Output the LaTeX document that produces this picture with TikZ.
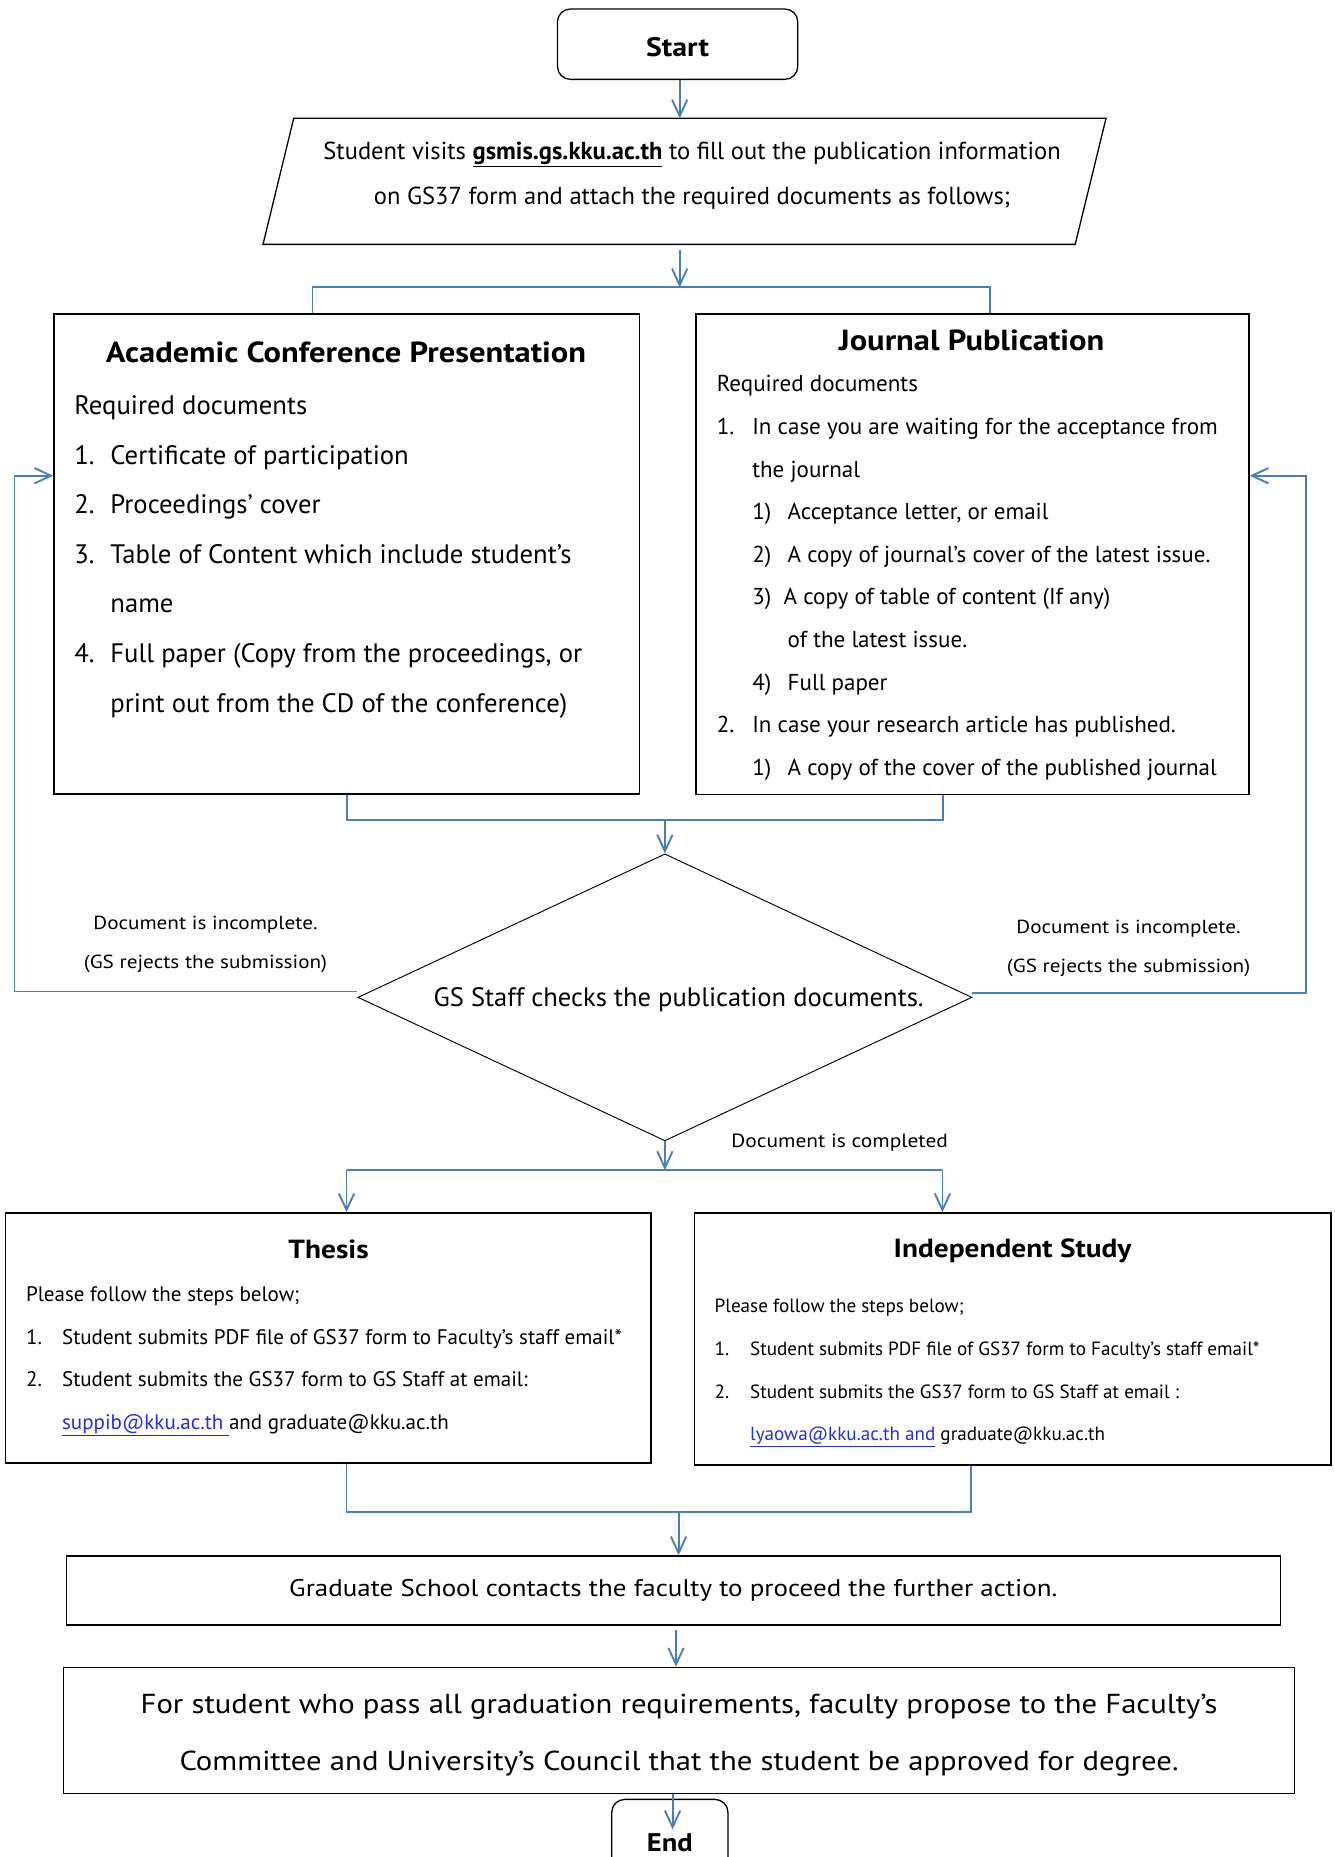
\documentclass[tikz,border=0pt]{standalone}
\usepackage{fontspec}
\setmainfont{PT Sans}
\newfontfamily\widefont{PT Sans}[FakeStretch=1.12]
\usetikzlibrary{positioning,calc,shapes.geometric,arrows.meta}

\definecolor{flowblue}{RGB}{74,126,187}
\definecolor{mailblue}{RGB}{30,45,235}

\newcommand{\nr}[2][30pt]{\makebox[#1][l]{#2}}
\newcommand{\lnk}[1]{\textcolor{mailblue}{\underline{#1}}}

\tikzset{
  box/.style={draw, line width=1.1pt, inner sep=0pt},
  term/.style={box, rounded corners=11pt, font=\widefont\bfseries\fontsize{22.6}{28}\selectfont},
  decision/.style={draw, diamond, line width=0.8pt, shape aspect=2.14, inner sep=0pt,
    minimum width=520pt, minimum height=243pt},
  boxtitle/.style={anchor=base, inner sep=0pt, font=\widefont\bfseries\fontsize{24.6}{28}\selectfont},
  txt/.style={anchor=north west, inner sep=0pt, align=left},
  note/.style={anchor=north, inner sep=0pt, align=center, font=\widefont\fontsize{16}{33}\selectfont},
  conn/.style={draw=flowblue, line width=1.6pt},
  arr/.style={conn, -{Straight Barb[length=14pt,width=13pt]}},
}

\begin{document}
\begin{tikzpicture}[x=1pt, y=-1pt]
  \useasboundingbox (0,0) rectangle (1130.4,1572.4);%
  % start and submission
  \node [term, minimum width=203.5pt, minimum height=59.6pt, text height=21pt, text depth=0pt] (start) at (573.75,37.4) {Start};%
  \draw [box] (222.7,206.9) -- (248.7,100.2) -- (936.5,100.2) -- (910.4,206.9) -- cycle;%
  \node [anchor=north, inner sep=0pt, align=center, font=\fontsize{20.8}{37.8}\selectfont] (visit) at (586,108.4) {%
    \strut Student visits \textbf{\underline{gsmis.gs.kku.ac.th}} to fill out the publication information\\%
    on GS37 form and attach the required documents as follows;};%
  \coordinate (visittop) at (575.5,100.2);%
  \coordinate (visitbot) at (575.5,211.7);%
  \coordinate (fork1) at (575.5,243.3);%
  \coordinate (fork1L) at (264.6,243.3);%
  \coordinate (fork1R) at (838.5,243.3);%
  % the two kinds of publication
  \node [box, minimum width=495.8pt, minimum height=406.4pt] (acad) at (293.6,469.1) {};%
  \node [boxtitle] (acadtitle) at (293,306.8) {Academic Conference Presentation};%
  \node [txt, font=\fontsize{22.6}{42}\selectfont] (acadlist) at (62.7,321.4) {%
    \strut Required documents\\%
    \nr[30.6pt]{1.}Certificate of participation\\%
    \nr[30.6pt]{2.}Proceedings’ cover\\%
    \nr[30.6pt]{3.}Table of Content which include student’s\\%
    \nr[30.6pt]{}name\\%
    \nr[30.6pt]{4.}Full paper (Copy from the proceedings, or\\%
    \nr[30.6pt]{}print out from the CD of the conference)};%
  \node [box, minimum width=468.4pt, minimum height=406.7pt] (jour) at (823.4,469.25) {};%
  \node [boxtitle] (jourtitle) at (822.7,296.9) {Journal Publication};%
  \node [txt, font=\fontsize{19.5}{36.07}\selectfont] (jourlist) at (606.8,306.35) {%
    \strut Required documents\\%
    \nr{1.}In case you are waiting for the acceptance from\\%
    \nr{}the journal\\%
    \nr{}\nr{1)}Acceptance letter, or email\\%
    \nr{}\nr{2)}A copy of journal’s cover of the latest issue.\\%
    \nr{}\nr[26.6pt]{3)}A copy of table of content (If any)\\%
    \nr{}\nr{}of the latest issue.\\%
    \nr{}\nr{4)}Full paper\\%
    \nr{2.}In case your research article has published.\\%
    \nr{}\nr{1)}A copy of the cover of the published journal};%
  % staff check
  \node [decision] (check) at (563,844.5) {};%
  \node [anchor=base, inner sep=0pt, font=\fontsize{22.5}{26}\selectfont] (checktext) at (574.6,852) {GS Staff checks the publication documents.};%
  \node [note] (failL) at (174,763.8) {\strut Document is incomplete.\\(GS rejects the submission)};%
  \node [note] (failR) at (955.6,767.2) {\strut Document is incomplete.\\(GS rejects the submission)};%
  \node [anchor=base, inner sep=0pt, font=\widefont\fontsize{16.2}{20}\selectfont] (pass) at (711,971.5) {Document is completed};%
  \coordinate (merge1) at (563,694.3);%
  \coordinate (join1R) at (798.8,694.3);%
  \coordinate (loopL) at (12.3,402.8);%
  \coordinate (loopR) at (1105.8,402.8);%
  \coordinate (fork2L) at (293.4,990.7);%
  \coordinate (fork2R) at (798,990.7);%
  % thesis or independent study
  \node [box, minimum width=546.3pt, minimum height=211.8pt] (thesis) at (278.05,1132.9) {};%
  \node [boxtitle, font=\widefont\bfseries\fontsize{22.2}{26}\selectfont] (thesistitle) at (278.2,1065.5) {Thesis};%
  \node [txt, font=\fontsize{17.8}{36}\selectfont] (thesislist) at (21.9,1077) {%
    \strut Please follow the steps below;\\%
    \nr[30.5pt]{1.}Student submits PDF file of GS37 form to Faculty’s staff email*\\%
    \nr[30.5pt]{2.}Student submits the GS37 form to GS Staff at email:\\%
    \nr[30.5pt]{}\lnk{suppib@kku.ac.th }and graduate@kku.ac.th};%
  \node [box, minimum width=538.9pt, minimum height=213.5pt] (indep) at (857.55,1133.75) {};%
  \node [boxtitle, font=\widefont\bfseries\fontsize{22.2}{26}\selectfont] (indeptitle) at (857.4,1065) {Independent Study};%
  \node [txt, font=\fontsize{16.2}{36.3}\selectfont] (indeplist) at (605,1085.6) {%
    \strut Please follow the steps below;\\%
    \nr{1.}Student submits PDF file of GS37 form to Faculty’s staff email*\\%
    \nr{2.}Student submits the GS37 form to GS Staff at email :\\%
    \nr{}\lnk{lyaowa@kku.ac.th and} graduate@kku.ac.th};%
  \coordinate (merge2) at (574.6,1280.6);%
  \coordinate (join2R) at (822.4,1280.6);%
  % final steps
  \node [box, minimum width=1027.8pt, minimum height=58.5pt, font=\widefont\fontsize{20.4}{24}\selectfont] (grad) at (570.1,1346.75) {%
    Graduate School contacts the faculty to proceed the further action.};%
  \coordinate (gradout) at (572.4,1380);%
  \node [box, minimum width=1042pt, minimum height=106.7pt, align=center, font=\widefont\fontsize{23.2}{48}\selectfont] (final) at (575,1465.15) {%
    \strut For student who pass all graduation requirements, faculty propose to the Faculty’s\\%
    Committee and University’s Council that the student be approved for degree.\strut};%
  \node [term, minimum width=98.4pt, minimum height=72.8pt, font=\widefont\bfseries\fontsize{21.6}{25}\selectfont] (finish) at (567.2,1560) {End};%
  \coordinate (endtip) at (569.5,1549);%
  % connectors
  \draw [arr] (start.south -| visittop) -- (visittop);%
  \draw [arr] (visitbot) -- (fork1);%
  \draw [conn] (acad.north -| fork1L) -- (fork1L) -- (fork1R) -- (jour.north -| fork1R);%
  \draw [conn] (acad.south) |- (join1R) -- (jour.south -| join1R);%
  \draw [arr] (merge1) -- (check.north);%
  \draw [arr] ([yshift=5pt]check.west) -| (loopL) -- (acad.west |- loopL);%
  \draw [arr] ([yshift=3.5pt]check.east) -| (loopR) -- (jour.east |- loopR);%
  \draw [arr] (check.south) -- (check.south |- fork2L);%
  \draw [conn] (fork2L) -- (fork2R);%
  \draw [arr] (fork2L) -- (thesis.north -| fork2L);%
  \draw [arr] (fork2R) -- (indep.north -| fork2R);%
  \draw [conn] (thesis.south -| fork2L) |- (join2R) -- (indep.south -| join2R);%
  \draw [arr] (merge2) -- (grad.north -| merge2);%
  \draw [arr] (gradout) -- (final.north -| gradout);%
  \draw [arr] (final.south -| endtip) -- (endtip);%
\end{tikzpicture}
\end{document}
